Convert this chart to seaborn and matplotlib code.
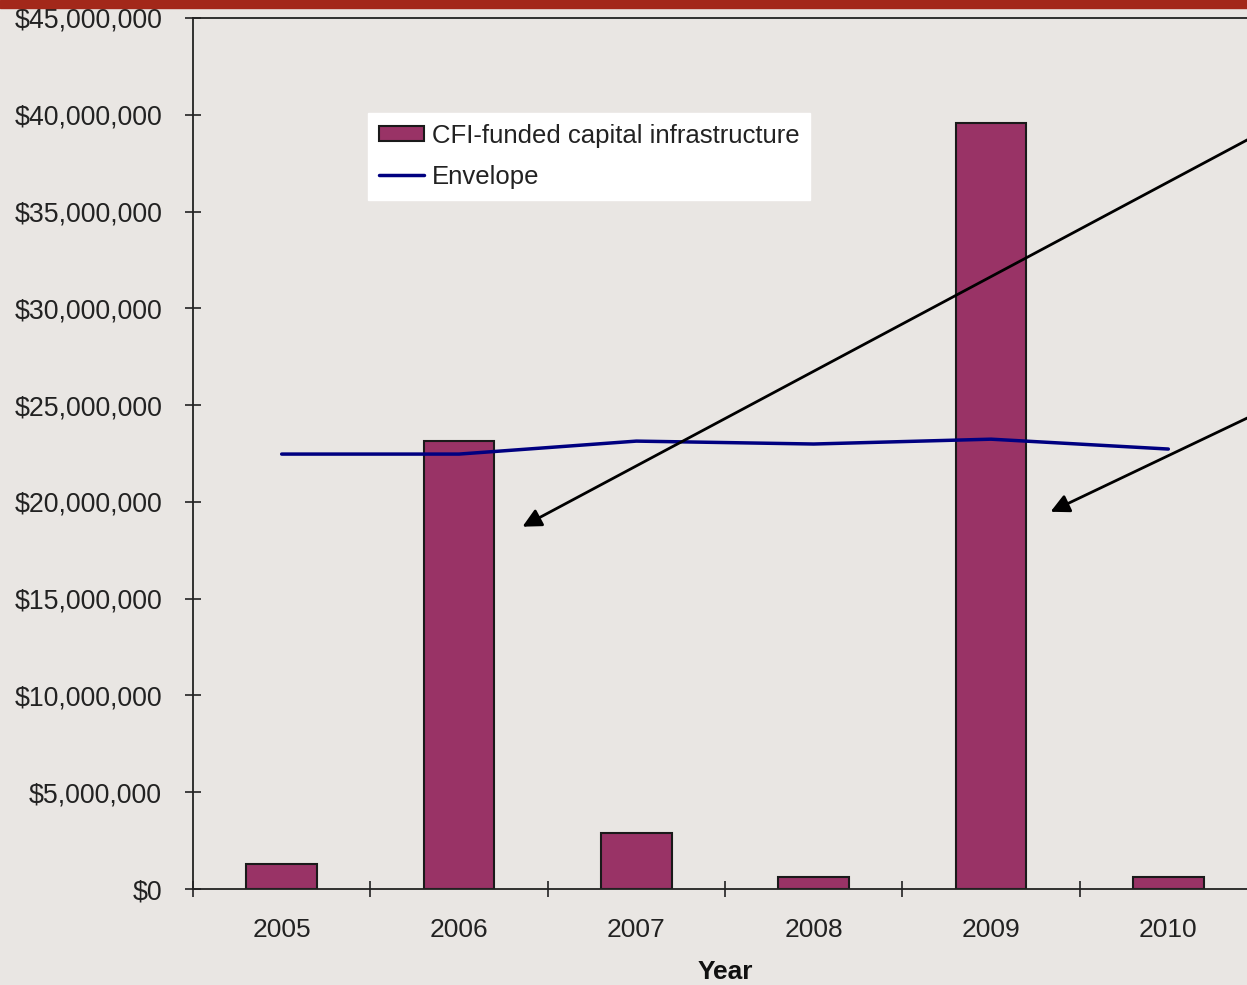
import matplotlib
matplotlib.use('Agg')
import matplotlib.pyplot as plt
import matplotlib.ticker as mticker
import seaborn as sns
import pandas as pd

# valores
anos = ['2005', '2006', '2007', '2008', '2009', '2010']
cfi_financiado = [1290000, 23140000, 2890000, 620000, 39570000, 620000]
envelope = [22470000, 22470000, 23140000, 22990000, 23240000, 22730000]

cor_fundo = '#E9E6E3'
cor_barra = '#993366'
cor_linha = '#000080'

sns.set_style('white')
plt.rcParams['font.family'] = ['Liberation Sans', 'DejaVu Sans']

df = pd.DataFrame({'Ano': anos, 'CFI': cfi_financiado, 'Envelope': envelope})

fig = plt.figure(figsize=(12.47, 9.85), dpi=100, facecolor=cor_fundo)
ax = fig.add_axes([193 / 1247, 96 / 985, 1064 / 1247, 871 / 985])
ax.set_facecolor(cor_fundo)

sns.barplot(data=df, x='Ano', y='CFI', color=cor_barra, width=0.4,
            edgecolor='#1a1a1a', linewidth=1.5, saturation=1, ax=ax,
            label='CFI-funded capital infrastructure')
sns.lineplot(data=df, x='Ano', y='Envelope', color=cor_linha, linewidth=2.5,
             ax=ax, label='Envelope')

ax.set_xlim(-0.5, 5.5)
ax.set_ylim(0, 45000000)
ax.yaxis.set_major_locator(mticker.MultipleLocator(5000000))
ax.yaxis.set_major_formatter(mticker.FuncFormatter(lambda v, p: f'${v:,.0f}'))
ax.set_xticks([x - 0.5 for x in range(7)], minor=False)
ax.set_xticks(range(6), minor=True)
ax.set_xticklabels([''] * 7)
ax.set_xticklabels(anos, minor=True)
ax.tick_params(axis='x', which='major', bottom=True, direction='inout', length=11.5,
               width=1.2, color='#222222')
ax.tick_params(axis='x', which='minor', bottom=True, length=0, pad=21, labelsize=19,
               labelcolor='#222222')
ax.tick_params(axis='y', left=True, direction='inout', length=11.5, width=1.2, color='#222222',
               pad=16.5, labelsize=19.3, labelcolor='#222222')

ax.set_xlabel('Year', fontsize=19, fontweight='bold', labelpad=13, color='#111111')
ax.set_ylabel('')

for lado in ['left', 'top', 'bottom', 'right']:
    ax.spines[lado].set_visible(True)
    ax.spines[lado].set_color('#222222')
    ax.spines[lado].set_linewidth(1.3)

handles, labels = ax.get_legend_handles_labels()
ordem = [labels.index('CFI-funded capital infrastructure'), labels.index('Envelope')]
leg = ax.legend([handles[i] for i in ordem], [labels[i] for i in ordem],
                loc='upper left', bbox_to_anchor=(175 / 1064, 776 / 871), borderaxespad=0,
                fontsize=18.5, frameon=True, fancybox=False, framealpha=1,
                facecolor='white', edgecolor='white', handlelength=1.75,
                handleheight=0.55, handletextpad=0.32, labelspacing=0.66, borderpad=0.42)
for t in leg.get_texts():
    t.set_color('#222222')

# faixa vermelha no topo
fig.patches.append(plt.Rectangle((0, 977 / 985), 1, 8 / 985, transform=fig.transFigure,
                                 color='#A3281A', zorder=5))

# setas
ax.annotate('', xy=(520, 985 - 528), xycoords='figure pixels',
            xytext=(1262, 985 - 132), textcoords='figure pixels',
            arrowprops=dict(arrowstyle='-|>', mutation_scale=28, lw=2, color='black'))
ax.annotate('', xy=(1048, 985 - 513), xycoords='figure pixels',
            xytext=(1262, 985 - 411), textcoords='figure pixels',
            arrowprops=dict(arrowstyle='-|>', mutation_scale=28, lw=2, color='black'))

fig.savefig('out.png', dpi=100, facecolor=cor_fundo)
